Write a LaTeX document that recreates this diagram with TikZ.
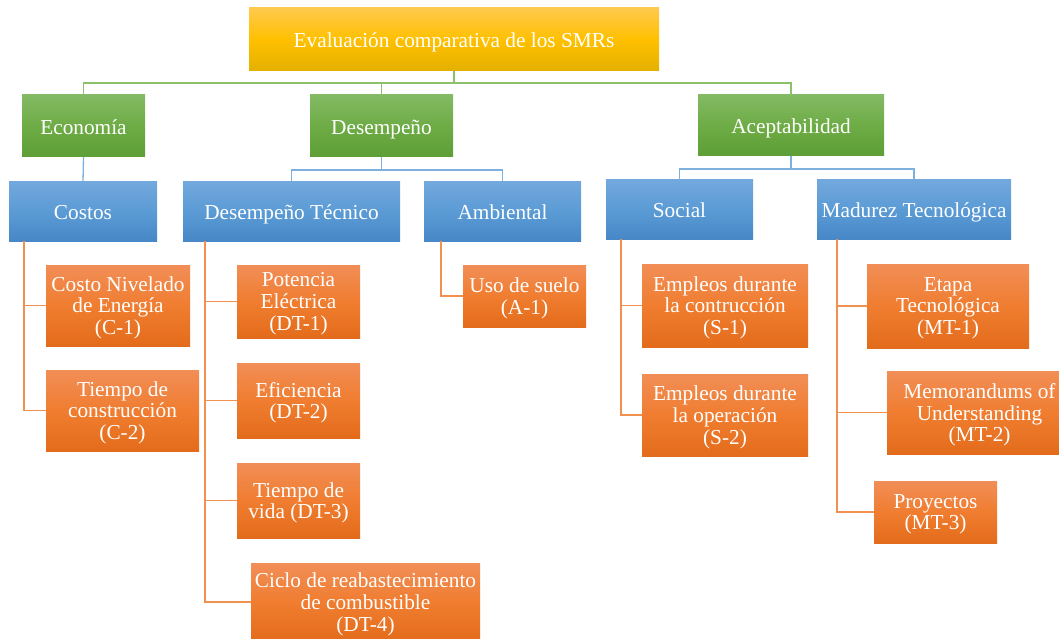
\documentclass[tikz,border=0pt]{standalone}
\usepackage{fontspec}
\setmainfont{Liberation Serif}
\definecolor{goldT}{HTML}{FFC94D}
\definecolor{goldM}{HTML}{FFC000}
\definecolor{goldB}{HTML}{E3B000}
\definecolor{grnT}{HTML}{83BA64}
\definecolor{grnM}{HTML}{6EAC46}
\definecolor{grnB}{HTML}{5E9E36}
\definecolor{bluT}{HTML}{72A8DD}
\definecolor{bluM}{HTML}{5B9BD5}
\definecolor{bluB}{HTML}{4787C7}
\definecolor{orgT}{HTML}{F18E57}
\definecolor{orgM}{HTML}{F07D30}
\definecolor{orgB}{HTML}{E36C1B}
\definecolor{grnL}{HTML}{8CC169}
\definecolor{bluL}{HTML}{7DAFDF}
\definecolor{orgL}{HTML}{F2904F}
\tikzset{
  basebox/.style={rectangle, inner sep=0pt, align=center, text=white,
    font=\fontsize{21.3}{21.7}\selectfont,
    execute at begin node={\rule{0pt}{\dimexpr0.891em+2pt\relax}},
    execute at end node={\rule[-0.216em]{0pt}{0pt}}},
  goldbox/.style={basebox, top color=goldT, bottom color=goldB, middle color=goldM},
  grnbox/.style={basebox, top color=grnT, bottom color=grnB, middle color=grnM},
  blubox/.style={basebox, top color=bluT, bottom color=bluB, middle color=bluM},
  orgbox/.style={basebox, text depth=0pt, top color=orgT, bottom color=orgB, middle color=orgM},
  gline/.style={draw=grnL, line width=1.4pt},
  bline/.style={draw=bluL, line width=1.3pt},
  oline/.style={draw=orgL, line width=1.5pt},
}
\begin{document}
\begin{tikzpicture}[x=1pt, y=-1pt]
\useasboundingbox (0,0) rectangle (1059,639);
% level 0
\node[goldbox, minimum width=410pt, minimum height=63pt] (root) at (454,39.5) {Evaluación comparativa de los SMRs};
% level 1
\node[grnbox, minimum width=123pt, minimum height=62pt] (eco) at (83.5,126) {Economía};
\node[grnbox, minimum width=143pt, minimum height=62pt] (des) at (381.5,126) {Desempeño};
\node[grnbox, minimum width=186pt, minimum height=61pt] (acc) at (791,125.5) {Aceptabilidad};
% level 2
\node[blubox, minimum width=148pt, minimum height=59pt] (cos) at (83,211.5) {Costos};
\node[blubox, minimum width=217pt, minimum height=59pt] (dt) at (291.5,211.5) {Desempeño Técnico};
\node[blubox, minimum width=157pt, minimum height=59pt] (amb) at (502.5,211.5) {Ambiental};
\node[blubox, minimum width=147pt, minimum height=59pt] (soc) at (679.5,209.5) {Social};
\node[blubox, minimum width=194pt, minimum height=59pt] (mt) at (914,209.5) {Madurez Tecnológica};
% level 3
\node[orgbox, minimum width=144pt, minimum height=81pt] (c1) at (118,305.5) {Costo Nivelado\\de Energía\\(C-1)};
\node[orgbox, minimum width=153pt, minimum height=81pt] (c2) at (122.5,410.5) {Tiempo de\\construcción\\(C-2)};
\node[orgbox, minimum width=123pt, minimum height=73pt] (dt1) at (298.5,301.5) {Potencia\\Eléctrica\\(DT-1)};
\node[orgbox, minimum width=123pt, minimum height=75pt] (dt2) at (298.5,400.5) {Eficiencia\\(DT-2)};
\node[orgbox, minimum width=123pt, minimum height=75pt] (dt3) at (298.5,500.5) {Tiempo de\\vida (DT-3)};
\node[orgbox, minimum width=229pt, minimum height=78pt] (dt4) at (365.5,602) {Ciclo de reabastecimiento\\de combustible\\(DT-4)};
\node[orgbox, minimum width=123pt, minimum height=62pt] (a1) at (524.5,296) {Uso de suelo\\(A-1)};
\node[orgbox, minimum width=166pt, minimum height=83pt] (s1) at (725,305.5) {Empleos durante\\la contrucción\\(S-1)};
\node[orgbox, minimum width=166pt, minimum height=82pt] (s2) at (725,415) {Empleos durante\\la operación\\(S-2)};
\node[orgbox, minimum width=162pt, minimum height=84pt] (mt1) at (948,306) {Etapa\\Tecnológica\\(MT-1)};
\node[orgbox, minimum width=185pt, minimum height=83pt] (mt2) at (979.5,412.5) {Memorandums of\\Understanding\\(MT-2)};
\node[orgbox, minimum width=123pt, minimum height=62pt] (mt3) at (935.5,512) {Proyectos\\(MT-3)};
% bus coordinates
\coordinate (gbus) at (0,83);
\coordinate (bbus1) at (0,170);
\coordinate (bbus2) at (0,169);
\coordinate (xcos) at (24,0);
\coordinate (xdt) at (205,0);
\coordinate (xamb) at (441,0);
\coordinate (xsoc) at (621,0);
\coordinate (xmt) at (837,0);
% green connectors
\draw[gline] (root.south) -- (root.south |- gbus);
\draw[gline] (eco.north) -- (eco.north |- gbus) -- (acc.north |- gbus) -- (acc.north);
\draw[gline] (des.north) -- (des.north |- gbus);
% blue connectors
\draw[bline] (eco.south) -- (cos.north);
\draw[bline] (des.south) -- (des.south |- bbus1);
\draw[bline] (dt.north) -- (dt.north |- bbus1) -- (amb.north |- bbus1) -- (amb.north);
\draw[bline] (acc.south) -- (acc.south |- bbus2);
\draw[bline] (soc.north) -- (soc.north |- bbus2) -- (mt.north |- bbus2) -- (mt.north);
% orange connectors
\draw[oline] (cos.south -| xcos) |- (c1.west);
\draw[oline] (cos.south -| xcos) |- (c2.west);
\draw[oline] (dt.south -| xdt) |- (dt1.west);
\draw[oline] (dt.south -| xdt) |- (dt2.west);
\draw[oline] (dt.south -| xdt) |- (dt3.west);
\draw[oline] (dt.south -| xdt) |- (dt4.west);
\draw[oline] (amb.south -| xamb) |- (a1.west);
\draw[oline] (soc.south -| xsoc) |- (s1.west);
\draw[oline] (soc.south -| xsoc) |- (s2.west);
\draw[oline] (mt.south -| xmt) |- (mt1.west);
\draw[oline] (mt.south -| xmt) |- (mt2.west);
\draw[oline] (mt.south -| xmt) |- (mt3.west);
\end{tikzpicture}
\end{document}
